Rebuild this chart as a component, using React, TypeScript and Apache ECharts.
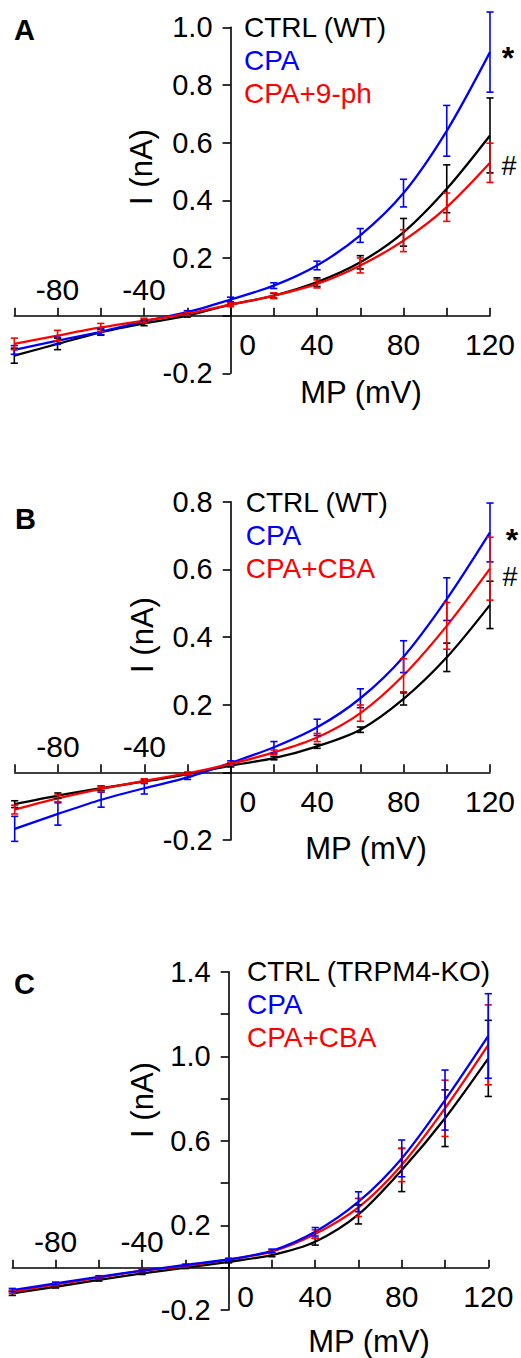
import React, { useEffect, useRef } from 'react';
import * as echarts from 'echarts';

// Membrane potential steps (mV)
const voltages = [-100, -80, -60, -40, -20, 0, 20, 40, 60, 80, 100, 120];

// Panel A (nA)
const ctrlWtA = [-0.139, -0.098, -0.058, -0.027, 0.0, 0.038, 0.069, 0.116, 0.185, 0.289, 0.44, 0.625];
const ctrlWtASem = [0.026, 0.02, 0.01, 0.008, 0.005, 0.006, 0.008, 0.015, 0.023, 0.048, 0.083, 0.13];
const cpaA = [-0.119, -0.087, -0.056, -0.02, 0.012, 0.056, 0.104, 0.174, 0.278, 0.425, 0.641, 0.914];
const cpaASem = [0.015, 0.012, 0.01, 0.006, 0.005, 0.008, 0.01, 0.015, 0.024, 0.048, 0.088, 0.139];
const cpa9phA = [-0.098, -0.069, -0.041, -0.017, 0.006, 0.038, 0.069, 0.11, 0.174, 0.26, 0.376, 0.53];
const cpa9phASem = [0.02, 0.018, 0.014, 0.008, 0.005, 0.006, 0.01, 0.014, 0.026, 0.038, 0.049, 0.068];

// Panel B (nA)
const ctrlWtB = [-0.094, -0.069, -0.047, -0.027, -0.005, 0.02, 0.042, 0.077, 0.126, 0.217, 0.34, 0.495];
const ctrlWtBSem = [0.01, 0.008, 0.007, 0.006, 0.004, 0.004, 0.005, 0.006, 0.008, 0.018, 0.042, 0.07];
const cpaB = [-0.167, -0.123, -0.081, -0.047, -0.015, 0.028, 0.074, 0.133, 0.219, 0.342, 0.512, 0.709];
const cpaBSem = [0.037, 0.033, 0.022, 0.017, 0.006, 0.006, 0.017, 0.024, 0.028, 0.047, 0.063, 0.087];
const cpaCbaB = [-0.11, -0.077, -0.049, -0.025, -0.003, 0.025, 0.059, 0.103, 0.175, 0.287, 0.433, 0.602];
const cpaCbaBSem = [0.013, 0.01, 0.008, 0.006, 0.004, 0.004, 0.007, 0.012, 0.024, 0.049, 0.069, 0.093];

// Panel C (nA)
const ctrlKoC = [-0.121, -0.09, -0.058, -0.027, 0.0, 0.028, 0.06, 0.123, 0.252, 0.462, 0.707, 0.99];
const ctrlKoCSem = [0.01, 0.006, 0.005, 0.005, 0.004, 0.005, 0.008, 0.016, 0.045, 0.102, 0.134, 0.18];
const cpaC = [-0.106, -0.074, -0.043, -0.014, 0.013, 0.039, 0.08, 0.17, 0.312, 0.517, 0.793, 1.096];
const cpaCSem = [0.008, 0.006, 0.005, 0.005, 0.004, 0.005, 0.008, 0.02, 0.047, 0.087, 0.142, 0.2];
const cpaCbaC = [-0.114, -0.079, -0.047, -0.014, 0.008, 0.039, 0.076, 0.159, 0.285, 0.486, 0.754, 1.054];
const cpaCbaCSem = [0.008, 0.006, 0.005, 0.005, 0.004, 0.005, 0.008, 0.02, 0.043, 0.079, 0.133, 0.189];

// Tick labels
const xLabelsBelow = [0, 40, 80, 120];
const xLabelsAbove = [-80, -40];
const X_MIN = -100;
const X_MAX = 120;
const Y_MIN = -0.2;

const FONT = "'Liberation Sans', Arial, Helvetica, sans-serif";
const BLACK = '#000000';
const BLUE = '#0000ff';
const RED = '#ff0000';

type SeriesDef = { name: string; color: string; mean: number[]; sem: number[] };
type PanelDef = {
  letter: string;
  grid: { left: number; top: number; width: number; height: number };
  yMax: number;
  yLabelEvery: number;
  series: SeriesDef[];
  legendLeft: number;
  legendTop: number;
  letterPos: [number, number];
  yNamePos: [number, number];
  xNamePos: [number, number];
  marks: { text: string; x: number; y: number; bold: boolean; size: number }[];
};

const panels: PanelDef[] = [
  {
    letter: 'A',
    grid: { left: 14.3, top: 27.3, width: 475.7, height: 346 },
    yMax: 1.0,
    yLabelEvery: 1,
    series: [
      { name: 'CTRL (WT)', color: BLACK, mean: ctrlWtA, sem: ctrlWtASem },
      { name: 'CPA', color: BLUE, mean: cpaA, sem: cpaASem },
      { name: 'CPA+9-ph', color: RED, mean: cpa9phA, sem: cpa9phASem },
    ],
    legendLeft: 239,
    legendTop: 13,
    letterPos: [14, 30],
    yNamePos: [141, 167],
    xNamePos: [361, 392],
    marks: [
      { text: '*', x: 508, y: 58, bold: true, size: 32 },
      { text: '#', x: 509, y: 166, bold: false, size: 27 },
    ],
  },
  {
    letter: 'B',
    grid: { left: 14.7, top: 501.7, width: 475.3, height: 338.3 },
    yMax: 0.8,
    yLabelEvery: 1,
    series: [
      { name: 'CTRL (WT)', color: BLACK, mean: ctrlWtB, sem: ctrlWtBSem },
      { name: 'CPA', color: BLUE, mean: cpaB, sem: cpaBSem },
      { name: 'CPA+CBA', color: RED, mean: cpaCbaB, sem: cpaCbaBSem },
    ],
    legendLeft: 240.7,
    legendTop: 488,
    letterPos: [15, 519],
    yNamePos: [142.5, 635],
    xNamePos: [366, 848],
    marks: [
      { text: '*', x: 512, y: 540, bold: true, size: 32 },
      { text: '#', x: 510, y: 577, bold: false, size: 27 },
    ],
  },
  {
    letter: 'C',
    grid: { left: 12.3, top: 971.7, width: 476, height: 338.3 },
    yMax: 1.4,
    yLabelEvery: 2,
    series: [
      { name: 'CTRL (TRPM4-KO)', color: BLACK, mean: ctrlKoC, sem: ctrlKoCSem },
      { name: 'CPA+CBA', color: RED, mean: cpaCbaC, sem: cpaCbaCSem },
      { name: 'CPA', color: BLUE, mean: cpaC, sem: cpaCSem },
    ],
    legendLeft: 242,
    legendTop: 957,
    letterPos: [14, 984],
    yNamePos: [142.5, 1100],
    xNamePos: [369, 1341],
    marks: [],
  },
];

const legendOrder: string[][] = [
  ['CTRL (WT)', 'CPA', 'CPA+9-ph'],
  ['CTRL (WT)', 'CPA', 'CPA+CBA'],
  ['CTRL (TRPM4-KO)', 'CPA', 'CPA+CBA'],
];

function buildOption() {
  const grids: any[] = [];
  const xAxes: any[] = [];
  const yAxes: any[] = [];
  const series: any[] = [];
  const legends: any[] = [];
  const graphics: any[] = [];

  const labelBase = { color: BLACK, fontFamily: FONT, fontSize: 30 };

  panels.forEach((p, i) => {
    grids.push({ ...p.grid, containLabel: false, outerBoundsMode: 'none' });
    // offsets that place the axes on the zero lines of the other axis
    const zeroFromBottom = (p.grid.height * (0 - Y_MIN)) / (p.yMax - Y_MIN);
    const zeroFromTop = p.grid.height - zeroFromBottom;
    const zeroFromLeft = (p.grid.width * (0 - X_MIN)) / (X_MAX - X_MIN);

    const mainX = xAxes.length;
    xAxes.push({
      type: 'value',
      gridIndex: i,
      min: X_MIN,
      max: X_MAX,
      interval: 20,
      position: 'bottom',
      offset: -zeroFromBottom,
      axisLine: { show: true, onZero: false, lineStyle: { color: BLACK, width: 1.6 } },
      axisTick: { show: true, inside: true, length: 8, lineStyle: { color: BLACK, width: 1.6 } },
      splitLine: { show: false },
      axisLabel: {
        ...labelBase,
        margin: 14,
        showMinLabel: true,
        showMaxLabel: true,
        formatter: (v: number) => {
          if (Math.abs(v) < 1e-9) return '{z|0}';
          return xLabelsBelow.indexOf(Math.round(v)) >= 0 ? String(Math.round(v)) : '';
        },
        rich: { z: { ...labelBase, padding: [0, 0, 0, 34] } },
      },
    });
    xAxes.push({
      type: 'value',
      gridIndex: i,
      min: X_MIN,
      max: X_MAX,
      interval: 20,
      position: 'top',
      offset: -zeroFromTop,
      axisLine: { show: false, onZero: false },
      axisTick: { show: false },
      splitLine: { show: false },
      axisLabel: {
        ...labelBase,
        margin: 11,
        formatter: (v: number) => (xLabelsAbove.indexOf(Math.round(v)) >= 0 ? String(Math.round(v)) : ''),
      },
    });
    yAxes.push({
      type: 'value',
      gridIndex: i,
      min: Y_MIN,
      max: p.yMax,
      interval: 0.2,
      position: 'left',
      offset: -zeroFromLeft,
      axisLine: { show: true, onZero: false, lineStyle: { color: BLACK, width: 1.6 } },
      axisTick: { show: true, inside: false, length: 8, lineStyle: { color: BLACK, width: 1.6 } },
      splitLine: { show: false },
      axisLabel: {
        ...labelBase,
        fontSize: 29,
        margin: 18,
        showMinLabel: true,
        showMaxLabel: true,
        formatter: (v: number) => {
          const step = Math.round((v - Y_MIN) / 0.2);
          if (Math.abs(v) < 1e-9) return '';
          if (step % p.yLabelEvery !== 0) return '';
          return v.toFixed(1);
        },
      },
    });

    p.series.forEach((s) => {
      series.push({
        type: 'line',
        name: s.name,
        xAxisIndex: mainX,
        yAxisIndex: i,
        data: voltages.map((v, k) => [v, s.mean[k]]),
        smooth: 0.3,
        symbol: 'none',
        showSymbol: false,
        lineStyle: { color: s.color, width: 2.3 },
        itemStyle: { color: s.color },
        z: 3,
      });
      series.push({
        type: 'custom',
        name: s.name + ' SEM ' + p.letter,
        xAxisIndex: mainX,
        yAxisIndex: i,
        data: voltages.map((v, k) => [v, s.mean[k] - s.sem[k], s.mean[k] + s.sem[k]]),
        encode: { x: 0, y: [1, 2] },
        clip: false,
        z: 4,
        renderItem: (params: any, api: any) => {
          const x = api.value(0);
          const lo = api.coord([x, api.value(1)]);
          const hi = api.coord([x, api.value(2)]);
          const w = 3.6;
          const st = { stroke: s.color, lineWidth: 1.6 };
          return {
            type: 'group',
            children: [
              { type: 'line', shape: { x1: lo[0], y1: lo[1], x2: hi[0], y2: hi[1] }, style: st },
              { type: 'line', shape: { x1: lo[0] - w, y1: lo[1], x2: lo[0] + w, y2: lo[1] }, style: st },
              { type: 'line', shape: { x1: hi[0] - w, y1: hi[1], x2: hi[0] + w, y2: hi[1] }, style: st },
            ],
          };
        },
      });
    });

    legends.push({
      orient: 'vertical',
      left: p.legendLeft,
      top: p.legendTop,
      itemWidth: 0,
      itemHeight: 0,
      itemGap: 5,
      icon: 'rect',
      selectedMode: false,
      padding: 0,
      textStyle: { fontSize: 28, fontFamily: FONT },
      data: legendOrder[i].map((n) => {
        const def = p.series.find((s) => s.name === n)!;
        return { name: n, textStyle: { color: def.color, fontSize: 28, fontFamily: FONT } };
      }),
    });

    graphics.push({
      type: 'text',
      x: p.letterPos[0],
      y: p.letterPos[1],
      style: {
        text: p.letter,
        fill: BLACK,
        fontSize: 29,
        fontWeight: 'bold',
        fontFamily: FONT,
        align: 'left',
        verticalAlign: 'middle',
        textAlign: 'left',
        textVerticalAlign: 'middle',
      },
    });
    graphics.push({
      type: 'text',
      x: p.yNamePos[0],
      y: p.yNamePos[1],
      rotation: Math.PI / 2,
      style: {
        text: 'I (nA)',
        fill: BLACK,
        fontSize: 31,
        fontFamily: FONT,
        align: 'center',
        verticalAlign: 'middle',
        textAlign: 'center',
        textVerticalAlign: 'middle',
      },
    });
    graphics.push({
      type: 'text',
      x: p.xNamePos[0],
      y: p.xNamePos[1],
      style: {
        text: 'MP (mV)',
        fill: BLACK,
        fontSize: 31,
        fontFamily: FONT,
        align: 'center',
        verticalAlign: 'middle',
        textAlign: 'center',
        textVerticalAlign: 'middle',
      },
    });
    p.marks.forEach((m) => {
      graphics.push({
        type: 'text',
        x: m.x,
        y: m.y,
        style: {
          text: m.text,
          fill: BLACK,
          fontSize: m.size,
          fontWeight: m.bold ? 'bold' : 'normal',
          fontFamily: FONT,
          align: 'center',
          verticalAlign: 'middle',
          textAlign: 'center',
          textVerticalAlign: 'middle',
        },
      });
    });
  });

  return {
    animation: false,
    backgroundColor: '#ffffff',
    grid: grids,
    xAxis: xAxes,
    yAxis: yAxes,
    legend: legends,
    series,
    graphic: graphics,
  };
}

export default function App() {
  const ref = useRef<HTMLDivElement>(null);
  useEffect(() => {
    if (!ref.current) return;
    const chart = echarts.init(ref.current, undefined, { renderer: 'svg' });
    chart.setOption(buildOption() as any);
    return () => chart.dispose();
  }, []);
  return (
    <div
      ref={ref}
      style={{ position: 'absolute', left: 0, top: 0, width: 521, height: 1358, background: '#fff' }}
    />
  );
}
